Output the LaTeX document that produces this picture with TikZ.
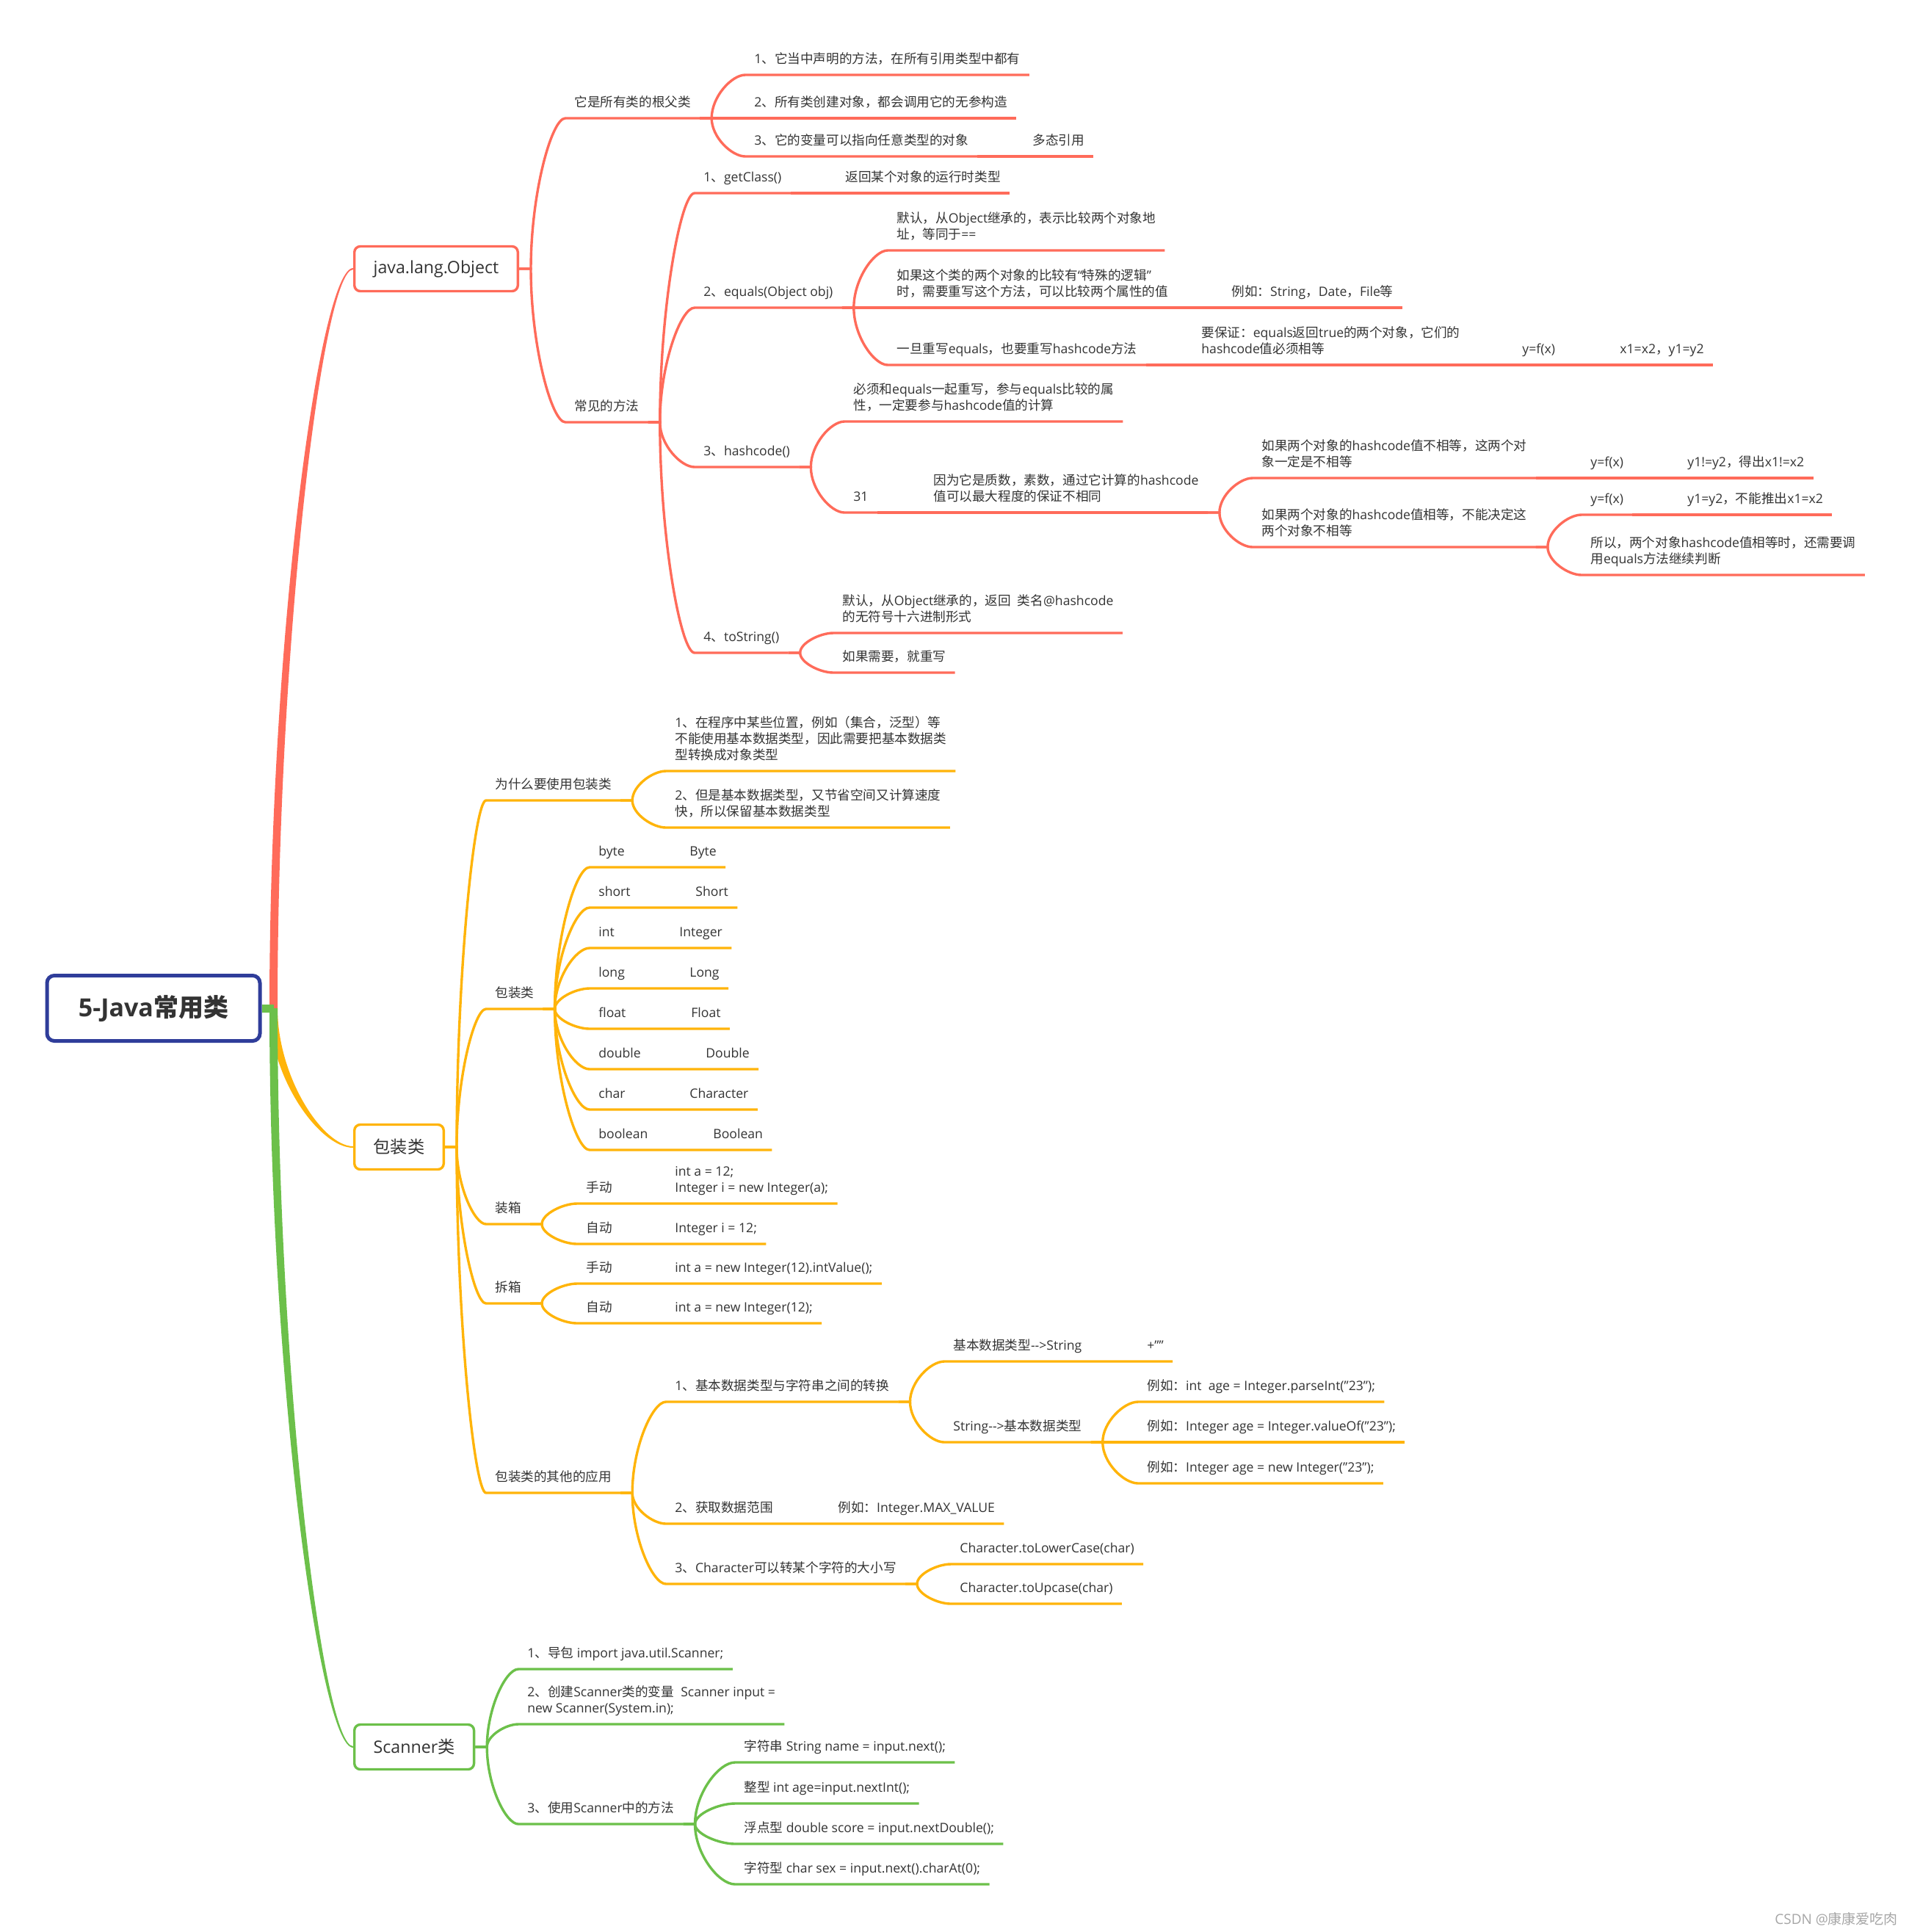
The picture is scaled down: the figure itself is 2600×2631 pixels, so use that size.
\documentclass[tikz,border=0pt]{standalone}
\usepackage{fontspec}
\setmainfont{Open Sans}
\newfontfamily\cjkfont{Noto Sans CJK SC}
\usetikzlibrary{calc}

% Chinese characters are set in the CJK face, the rest in Open Sans
\XeTeXinterchartokenstate=1
\newXeTeXintercharclass\cjkclass
\newcount\cjkcode
\def\setcjkrange#1#2{\cjkcode=#1
  \loop \XeTeXcharclass\cjkcode=\cjkclass
  \ifnum\cjkcode<#2 \advance\cjkcode by 1 \repeat}
\setcjkrange{"3000}{"303F}
\setcjkrange{"4E00}{"9FFF}
\setcjkrange{"FF00}{"FFEF}
\XeTeXinterchartoks 0 \cjkclass = {\cjkfont}
\XeTeXinterchartoks 4095 \cjkclass = {\cjkfont}
\XeTeXinterchartoks \cjkclass 0 = {\rmfamily}
\XeTeXinterchartoks \cjkclass 4095 = {\rmfamily}

\definecolor{ink}{RGB}{51,51,51}
\definecolor{mred}{RGB}{255,107,90}
\definecolor{morange}{RGB}{255,180,10}
\definecolor{mgreen}{RGB}{108,192,74}
\definecolor{rootblue}{RGB}{47,61,154}

% tapered main branch from the root to a topic box (#3: signed half width at the box)
\newcommand{\trunk}[3]{%
  \fill[#1] ([yshift=-2.75pt]root.east) rectangle ([xshift=8pt,yshift=2.75pt]root.east);
  \fill[#1] let \p1=([xshift=8pt]root.east), \p2=(#2.west) in
    (\x1-2.75pt,\y1) .. controls (\x1-2.75pt,{0.5*\y1+0.5*(\y2+(#3))})
      and ({0.6*\x2+0.4*(\x1-2.75pt)},{\y2+(#3)}) .. (\x2,{\y2+(#3)})
    -- (\x2,{\y2-(#3)}) .. controls ({0.6*\x2+0.4*(\x1+2.75pt)},{\y2-(#3)})
      and (\x1+2.75pt,{0.5*\y1+0.5*(\y2-(#3))}) .. (\x1+2.75pt,\y1) -- cycle;}

\begin{document}
\begin{tikzpicture}[
    x=0.5pt, y=-0.5pt,
    every node/.style={text=ink, font=\fontsize{8.8pt}{11pt}\selectfont},
    item/.style={anchor=south west, inner xsep=6pt, inner ysep=7.5pt, text depth=0pt, align=left},
    topic/.style={draw, line width=1.7pt, rounded corners=4pt, fill=white, anchor=west, minimum height=30.5pt, inner xsep=13pt, font=\fontsize{11.6pt}{13pt}\selectfont},
    root/.style={draw=rootblue, line width=2.5pt, rounded corners=5pt, fill=white, minimum width=145pt, minimum height=44.5pt, font=\bfseries\fontsize{17pt}{20pt}\selectfont},
    link/.style={to path={-- ++(16,0) coordinate (j)
        .. controls ($(j)!0.5!(j |- \tikztotarget)$) and ($(\tikztotarget)!0.4!(j |- \tikztotarget)$) .. (\tikztotarget)}},
    rline/.style={draw=mred, line width=1.7pt},
    oline/.style={draw=morange, line width=1.7pt},
    gline/.style={draw=mgreen, line width=1.7pt}
]
\useasboundingbox (0,0) rectangle (2600,2631);

\node[root] (root) at (209,1373) {5-Java常用类};

% java.lang.Object
\node[topic, draw=mred] (obj) at (481,366) {java.lang.Object};
\node[item] (root1) at (770,161) {它是所有类的根父类};
\node[item] (r1a) at (1015,102) {1、它当中声明的方法，在所有引用类型中都有};
\node[item] (r1b) at (1015,161) {2、所有类创建对象，都会调用它的无参构造};
\node[item] (r1c) at (1015,213) {3、它的变量可以指向任意类型的对象};
\node[item] (r1cx) at (1394,213) {多态引用};
\node[item] (common) at (770,575) {常见的方法};
\node[item] (gc) at (946,263) {1、getClass()};
\node[item] (gcd) at (1139,263) {返回某个对象的运行时类型};
\node[item] (eq) at (946,419) {2、equals(Object obj)};
\node[item] (eqa) at (1209,341) {默认，从Object继承的，表示比较两个对象地\\址，等同于==};
\node[item] (eqb) at (1209,419) {如果这个类的两个对象的比较有“特殊的逻辑”\\时，需要重写这个方法，可以比较两个属性的值};
\node[item] (eqbx) at (1665,419) {例如：String，Date，File等};
\node[item] (eqc) at (1209,497) {一旦重写equals，也要重写hashcode方法};
\node[item] (eqcx) at (1624,497) {要保证：equals返回true的两个对象，它们的\\hashcode值必须相等};
\node[item] (eqcy) at (2061,497) {y=f(x)};
\node[item] (eqcz) at (2194,497) {x1=x2，y1=y2};
\node[item] (hc) at (946,636) {3、hashcode()};
\node[item] (hca) at (1150,574) {必须和equals一起重写，参与equals比较的属\\性，一定要参与hashcode值的计算};
\node[item] (hcb) at (1150,698) {31};
\node[item] (hcc) at (1259,698) {因为它是质数，素数，通过它计算的hashcode\\值可以最大程度的保证不相同};
\node[item] (hcd) at (1706,651) {如果两个对象的hashcode值不相等，这两个对\\象一定是不相等};
\node[item] (hcd1) at (2154,651) {y=f(x)};
\node[item] (hcd2) at (2286,651) {y1!=y2，得出x1!=x2};
\node[item] (hce) at (1706,745) {如果两个对象的hashcode值相等，不能决定这\\两个对象不相等};
\node[item] (hcf) at (2154,701) {y=f(x)};
\node[item] (hcf1) at (2286,701) {y1=y2，不能推出x1=x2};
\node[item] (hcg) at (2154,783) {所以，两个对象hashcode值相等时，还需要调\\用equals方法继续判断};
\node[item] (ts) at (946,889) {4、toString()};
\node[item] (tsa) at (1135,862) {默认，从Object继承的，返回\ \ 类名@hashcode\\的无符号十六进制形式};
\node[item] (tsb) at (1135,916) {如果需要，就重写};

% 包装类
\node[topic, draw=morange] (wrap) at (481,1562) {包装类};
\node[item] (why) at (662,1090) {为什么要使用包装类};
\node[item] (whya) at (907,1050) {1、在程序中某些位置，例如（集合，泛型）等\\不能使用基本数据类型，因此需要把基本数据类\\型转换成对象类型};
\node[item] (whyb) at (907,1127) {2、但是基本数据类型，又节省空间又计算速度\\快，所以保留基本数据类型};
\node[item] (types) at (662,1374) {包装类};
\node[item] (pbyte) at (803,1181) {byte};
\node[item] (wbyte) at (927,1181) {Byte};
\node[item] (pshort) at (803,1236) {short};
\node[item] (wshort) at (935,1236) {Short};
\node[item] (pint) at (803,1291) {int};
\node[item] (wint) at (913,1291) {Integer};
\node[item] (plong) at (803,1346) {long};
\node[item] (wlong) at (927,1346) {Long};
\node[item] (pfloat) at (803,1401) {float};
\node[item] (wfloat) at (929,1401) {Float};
\node[item] (pdouble) at (803,1456) {double};
\node[item] (wdouble) at (949,1456) {Double};
\node[item] (pchar) at (803,1511) {char};
\node[item] (wchar) at (927,1511) {Character};
\node[item] (pbool) at (803,1566) {boolean};
\node[item] (wbool) at (959,1566) {Boolean};
\node[item] (boxing) at (662,1667) {装箱};
\node[item] (bm) at (786,1639) {手动};
\node[item] (bmc) at (907,1639) {int a = 12;\\Integer i = new Integer(a);};
\node[item] (ba) at (786,1694) {自动};
\node[item] (bac) at (907,1694) {Integer i = 12;};
\node[item] (unboxing) at (662,1775) {拆箱};
\node[item] (um) at (786,1748) {手动};
\node[item] (umc) at (907,1748) {int a = new Integer(12).intValue();};
\node[item] (ua) at (786,1802) {自动};
\node[item] (uac) at (907,1802) {int a = new Integer(12);};
\node[item] (other) at (662,2033) {包装类的其他的应用};
\node[item] (conv) at (907,1909) {1、基本数据类型与字符串之间的转换};
\node[item] (c1) at (1286,1854) {基本数据类型-{}->String};
\node[item] (c1x) at (1550,1854) {+""};
\node[item] (c2) at (1286,1964) {String-{}->基本数据类型};
\node[item] (c2a) at (1550,1909) {例如：int\ \ age = Integer.parseInt("23");};
\node[item] (c2b) at (1550,1964) {例如：Integer age = Integer.valueOf("23");};
\node[item] (c2c) at (1550,2020) {例如：Integer age = new Integer("23");};
\node[item] (range) at (907,2075) {2、获取数据范围};
\node[item] (rangex) at (1129,2075) {例如：Integer.MAX\_VALUE};
\node[item] (chr) at (907,2157) {3、Character可以转某个字符的大小写};
\node[item] (chra) at (1295,2130) {Character.toLowerCase(char)};
\node[item] (chrb) at (1295,2184) {Character.toUpcase(char)};

% Scanner类
\node[topic, draw=mgreen] (scan) at (481,2379) {Scanner类};
\node[item] (s1) at (706,2273) {1、导包 import java.util.Scanner;};
\node[item] (s2) at (706,2348) {2、创建Scanner类的变量\ \ Scanner input =\\new Scanner(System.in);};
\node[item] (s3) at (706,2484) {3、使用Scanner中的方法};
\node[item] (s3a) at (1001,2400) {字符串 String name = input.next();};
\node[item] (s3b) at (1001,2456) {整型 int age=input.nextInt();};
\node[item] (s3c) at (1001,2511) {浮点型 double score = input.nextDouble();};
\node[item] (s3d) at (1001,2566) {字符型 char sex = input.next().charAt(0);};

\node[anchor=base east, text=gray!70, font=\fontsize{9.5pt}{11pt}\selectfont] (mark) at (2592,2620) {CSDN @康康爱吃肉};

% trunks
\trunk{mred}{obj}{0.5pt}
\trunk{morange}{wrap}{-0.5pt}
\trunk{mgreen}{scan}{-0.5pt}

% red branches
\draw[rline] (obj.east) to[link] (root1.south west) -- (root1.south east);
\draw[rline] (obj.east) to[link] (common.south west) -- (common.south east);
\draw[rline] (root1.south east) to[link] (r1a.south west) -- (r1a.south east);
\draw[rline] (root1.south east) to[link] (r1b.south west) -- (r1b.south east);
\draw[rline] (root1.south east) to[link] (r1c.south west) -- (r1c.south east);
\draw[rline] (r1c.south east) to[link] (r1cx.south west) -- (r1cx.south east);
\draw[rline] (common.south east) to[link] (gc.south west) -- (gc.south east);
\draw[rline] (gc.south east) to[link] (gcd.south west) -- (gcd.south east);
\draw[rline] (common.south east) to[link] (eq.south west) -- (eq.south east);
\draw[rline] (eq.south east) to[link] (eqa.south west) -- (eqa.south east);
\draw[rline] (eq.south east) to[link] (eqb.south west) -- (eqb.south east);
\draw[rline] (eqb.south east) to[link] (eqbx.south west) -- (eqbx.south east);
\draw[rline] (eq.south east) to[link] (eqc.south west) -- (eqc.south east);
\draw[rline] (eqc.south east) to[link] (eqcx.south west) -- (eqcx.south east);
\draw[rline] (eqcx.south east) to[link] (eqcy.south west) -- (eqcy.south east);
\draw[rline] (eqcy.south east) to[link] (eqcz.south west) -- (eqcz.south east);
\draw[rline] (common.south east) to[link] (hc.south west) -- (hc.south east);
\draw[rline] (hc.south east) to[link] (hca.south west) -- (hca.south east);
\draw[rline] (hc.south east) to[link] (hcb.south west) -- (hcb.south east);
\draw[rline] (hcb.south east) to[link] (hcc.south west) -- (hcc.south east);
\draw[rline] (hcc.south east) to[link] (hcd.south west) -- (hcd.south east);
\draw[rline] (hcd.south east) to[link] (hcd1.south west) -- (hcd1.south east);
\draw[rline] (hcd1.south east) to[link] (hcd2.south west) -- (hcd2.south east);
\draw[rline] (hcc.south east) to[link] (hce.south west) -- (hce.south east);
\draw[rline] (hce.south east) to[link] (hcf.south west) -- (hcf.south east);
\draw[rline] (hcf.south east) to[link] (hcf1.south west) -- (hcf1.south east);
\draw[rline] (hce.south east) to[link] (hcg.south west) -- (hcg.south east);
\draw[rline] (common.south east) to[link] (ts.south west) -- (ts.south east);
\draw[rline] (ts.south east) to[link] (tsa.south west) -- (tsa.south east);
\draw[rline] (ts.south east) to[link] (tsb.south west) -- (tsb.south east);

% orange branches
\draw[oline] (wrap.east) to[link] (why.south west) -- (why.south east);
\draw[oline] (why.south east) to[link] (whya.south west) -- (whya.south east);
\draw[oline] (why.south east) to[link] (whyb.south west) -- (whyb.south east);
\draw[oline] (wrap.east) to[link] (types.south west) -- (types.south east);
\draw[oline] (types.south east) to[link] (pbyte.south west) -- (pbyte.south east) to[link] (wbyte.south west) -- (wbyte.south east);
\draw[oline] (types.south east) to[link] (pshort.south west) -- (pshort.south east) to[link] (wshort.south west) -- (wshort.south east);
\draw[oline] (types.south east) to[link] (pint.south west) -- (pint.south east) to[link] (wint.south west) -- (wint.south east);
\draw[oline] (types.south east) to[link] (plong.south west) -- (plong.south east) to[link] (wlong.south west) -- (wlong.south east);
\draw[oline] (types.south east) to[link] (pfloat.south west) -- (pfloat.south east) to[link] (wfloat.south west) -- (wfloat.south east);
\draw[oline] (types.south east) to[link] (pdouble.south west) -- (pdouble.south east) to[link] (wdouble.south west) -- (wdouble.south east);
\draw[oline] (types.south east) to[link] (pchar.south west) -- (pchar.south east) to[link] (wchar.south west) -- (wchar.south east);
\draw[oline] (types.south east) to[link] (pbool.south west) -- (pbool.south east) to[link] (wbool.south west) -- (wbool.south east);
\draw[oline] (wrap.east) to[link] (boxing.south west) -- (boxing.south east);
\draw[oline] (boxing.south east) to[link] (bm.south west) -- (bm.south east) to[link] (bmc.south west) -- (bmc.south east);
\draw[oline] (boxing.south east) to[link] (ba.south west) -- (ba.south east) to[link] (bac.south west) -- (bac.south east);
\draw[oline] (wrap.east) to[link] (unboxing.south west) -- (unboxing.south east);
\draw[oline] (unboxing.south east) to[link] (um.south west) -- (um.south east) to[link] (umc.south west) -- (umc.south east);
\draw[oline] (unboxing.south east) to[link] (ua.south west) -- (ua.south east) to[link] (uac.south west) -- (uac.south east);
\draw[oline] (wrap.east) to[link] (other.south west) -- (other.south east);
\draw[oline] (other.south east) to[link] (conv.south west) -- (conv.south east);
\draw[oline] (conv.south east) to[link] (c1.south west) -- (c1.south east) to[link] (c1x.south west) -- (c1x.south east);
\draw[oline] (conv.south east) to[link] (c2.south west) -- (c2.south east);
\draw[oline] (c2.south east) to[link] (c2a.south west) -- (c2a.south east);
\draw[oline] (c2.south east) to[link] (c2b.south west) -- (c2b.south east);
\draw[oline] (c2.south east) to[link] (c2c.south west) -- (c2c.south east);
\draw[oline] (other.south east) to[link] (range.south west) -- (range.south east) to[link] (rangex.south west) -- (rangex.south east);
\draw[oline] (other.south east) to[link] (chr.south west) -- (chr.south east);
\draw[oline] (chr.south east) to[link] (chra.south west) -- (chra.south east);
\draw[oline] (chr.south east) to[link] (chrb.south west) -- (chrb.south east);

% green branches
\draw[gline] (scan.east) to[link] (s1.south west) -- (s1.south east);
\draw[gline] (scan.east) to[link] (s2.south west) -- (s2.south east);
\draw[gline] (scan.east) to[link] (s3.south west) -- (s3.south east);
\draw[gline] (s3.south east) to[link] (s3a.south west) -- (s3a.south east);
\draw[gline] (s3.south east) to[link] (s3b.south west) -- (s3b.south east);
\draw[gline] (s3.south east) to[link] (s3c.south west) -- (s3c.south east);
\draw[gline] (s3.south east) to[link] (s3d.south west) -- (s3d.south east);
\end{tikzpicture}
\end{document}
